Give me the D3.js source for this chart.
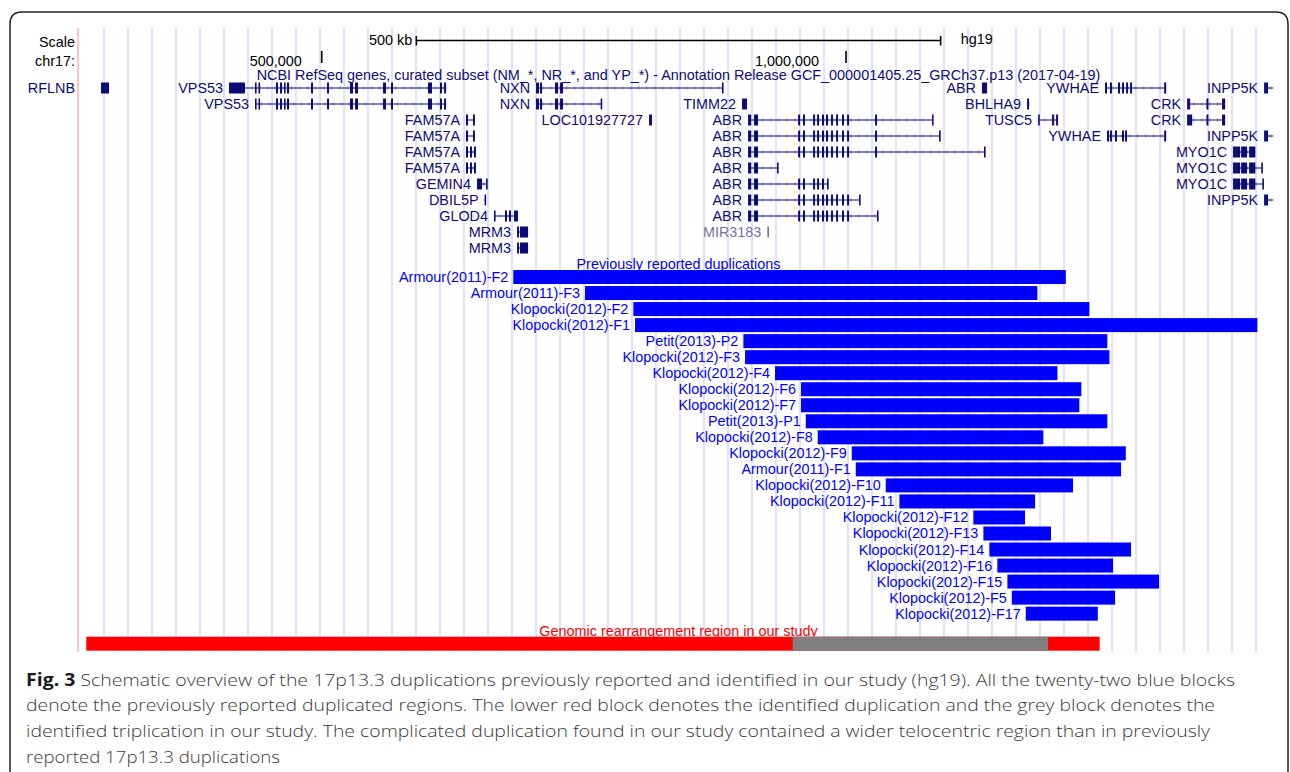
<!DOCTYPE html>
<meta charset="utf-8">
<style>
body { margin: 0; background: #fff; }
svg text { font-family: "Liberation Sans", Arial, Helvetica, sans-serif; }
svg text.caption { font-family: "Open Sans", "Noto Sans", sans-serif; }
</style>
<body>
<script src="https://cdnjs.cloudflare.com/ajax/libs/d3/7.8.5/d3.min.js"></script>
<script>

var w = 1290, h = 772;
var navy = "#0c0c78";
var fs = 14.4;

// browser window on chr17 (hg19)
var chromStart = 267600, chromEnd = 1412900;
var rulerTicks = [500000, 1000000];
var rulerLabels = ["500,000", "1,000,000"];
var scaleBarBp = 500000;

// RefSeq transcripts: name, row, start, end, exons
var transcripts = [
	["RFLNB", 0, 289500, 297200, [[289500, 297200]]],
	["VPS53", 0, 411600, 618600, [[411600,426900],[436400,437800],[439700,441200],[456400,458300],[460200,462200],[464100,465500],[466900,468900],[489800,491700],[505100,507000],[527000,529900],[531800,534600],[558500,561300],[566100,568000],[601400,605200],[612800,614700],[616700,618600]]],
	["VPS53", 1, 436400, 618600, [[436400,437800],[439700,441200],[456400,458300],[460200,462200],[464100,465500],[466900,468900],[489800,491700],[505100,507000],[527000,529900],[531800,534600],[558500,561300],[566100,568000],[601400,605200],[612800,614700],[616700,618600]]],
	["NXN", 0, 704400, 882700, [[704400,707200],[708200,710100],[722500,725400],[727300,730100],[881700,882700]]],
	["NXN", 1, 704400, 767000, [[704400,707200],[708200,710100],[722500,725400],[727300,730100],[766000,767000]]],
	["TIMM22", 1, 900900, 905600, [[900900, 905600]]],
	["FAM57A", 2, 637600, 646100, [[637600,639500],[644300,646100]]],
	["FAM57A", 3, 637600, 646100, [[637600,639500],[644300,646100]]],
	["FAM57A", 4, 637600, 647100, [[637600,639500],[641400,643300],[645200,647100]]],
	["FAM57A", 5, 637600, 647100, [[637600,639500],[641400,643300],[645200,647100]]],
	["LOC101927727", 2, 812200, 815000, [[812200, 815000]]],
	["GEMIN4", 6, 648100, 657700, [[648100,652900],[656700,657700]]],
	["DBIL5P", 7, 655300, 656700, [[655300, 656700]]],
	["GLOD4", 8, 664300, 687200, [[664300,665300],[674800,676700],[678600,680500],[683400,687200]]],
	["MRM3", 9, 686300, 696800, [[686300,688200],[689100,696800]]],
	["MRM3", 10, 686300, 696800, [[686300,688200],[689100,696800]]],
	["ABR", 0, 1129700, 1134500, [[1129700, 1134500]]],
	["ABR", 2, 906600, 1083000, "abr"],
	["ABR", 3, 906600, 1089700, "abr"],
	["ABR", 4, 906600, 1132600, "abr"],
	["ABR", 5, 906600, 935200, [[906600,909500],[912300,916100],[934200,935200]]],
	["ABR", 6, 906600, 982900, "abr"],
	["ABR", 7, 906600, 1013400, "abr"],
	["ABR", 8, 906600, 1030500, "abr"],
	["MIR3183", 9, 925000, 926200, [[925000, 926200]]],
	["BHLHA9", 1, 1172700, 1174600, [[1172700, 1174600]]],
	["TUSC5", 2, 1183200, 1202200, [[1183200,1184200],[1196500,1198500],[1200300,1202200]]],
	["YWHAE", 0, 1247000, 1305300, [[1247000,1248900],[1251700,1253600],[1259400,1261300],[1263200,1265100],[1267100,1269000],[1270900,1272800],[1303400,1305300]]],
	["YWHAE", 3, 1248900, 1305300, [[1248900,1250800],[1251700,1253600],[1256500,1258400],[1263200,1265100],[1266100,1268000],[1303400,1305300]]],
	["INPP5K", 0, 1398700, 1407300, [[1398700, 1402500]]],
	["INPP5K", 3, 1398700, 1407300, [[1398700, 1402500]]],
	["INPP5K", 7, 1398700, 1407300, [[1398700, 1402500]]],
	["CRK", 1, 1325300, 1361500, [[1325300,1328200],[1343700,1345600],[1358600,1361500]]],
	["CRK", 2, 1325300, 1361500, [[1325300,1330100],[1343700,1345600],[1358600,1361500]]],
	["MYO1C", 4, 1369100, 1390300, [[1369100,1375800],[1376800,1382500],[1384400,1390300]]],
	["MYO1C", 5, 1369100, 1397000, [[1369100,1375800],[1376800,1382500],[1384400,1390300],[1396000,1397000]]],
	["MYO1C", 6, 1369100, 1398000, [[1369100,1375800],[1376800,1382500],[1384400,1390300],[1397000,1398000]]]
];
// shared ABR exon model
var abrExons = [[906600,909500],[912300,916100],[954300,956200],[959000,960900],[968600,970500],[972400,974300],[977100,979000],[980900,982900],[985700,987600],[990500,992400],[996200,998100],[1001000,1002900],[1027700,1029600]];
var noncoding = ["MIR3183"];

// previously reported duplications
var dupNames = ["Armour(2011)-F2","Armour(2011)-F3","Klopocki(2012)-F2","Klopocki(2012)-F1","Petit(2013)-P2","Klopocki(2012)-F3","Klopocki(2012)-F4","Klopocki(2012)-F6","Klopocki(2012)-F7","Petit(2013)-P1","Klopocki(2012)-F8","Klopocki(2012)-F9","Armour(2011)-F1","Klopocki(2012)-F10","Klopocki(2012)-F11","Klopocki(2012)-F12","Klopocki(2012)-F13","Klopocki(2012)-F14","Klopocki(2012)-F16","Klopocki(2012)-F15","Klopocki(2012)-F5","Klopocki(2012)-F17"];
var dupStart = [682700,751100,797200,798800,902100,903700,932300,957100,957100,961600,973000,1005500,1009300,1037900,1050900,1121400,1131000,1136700,1144300,1153900,1158100,1171400];
var dupEnd = [1209600,1182500,1232100,1392300,1249200,1251200,1201600,1224400,1222500,1249200,1188200,1266800,1262300,1216500,1180300,1170700,1195500,1271800,1254700,1298500,1256600,1240100];

// our study
var studyDuplication = [275500, 1241900];
var studyTriplication = [949200, 1192700];

var captionLines = [
	"Schematic overview of the 17p13.3 duplications previously reported and identified in our study (hg19). All the twenty-two blue blocks",
	"denote the previously reported duplicated regions. The lower red block denotes the identified duplication and the grey block denotes the",
	"identified triplication in our study. The complicated duplication found in our study contained a wider telocentric region than in previously",
	"reported 17p13.3 duplications"
];

var svg = d3.select("body").append("svg")
	.attr("width", w)
	.attr("height", h);

var x = d3.scaleLinear().domain([chromStart, chromEnd]).range([78, 1279]);
var rowY = function(r) { return 88 + r * 16; };
var yDup = d3.scaleBand().domain(dupNames).range([269, 269 + 22 * 16.03]).paddingInner(0.125).paddingOuter(0.0625);
var xMid = (x.range()[0] + x.range()[1]) / 2;

// frame
svg.append("path")
	.attr("d", "M10,780 L10,24 Q10,12 22,12 L1276,12 Q1288,12 1288,24 L1288,780")
	.attr("fill", "none")
	.attr("stroke", "#222")
	.attr("stroke-width", 1.5);

// guidelines
svg.selectAll("line.guide")
	.data(d3.range(104, 1279, 24))
	.enter().append("line")
	.attr("x1", function(d) { return d; })
	.attr("x2", function(d) { return d; })
	.attr("y1", 28).attr("y2", 652)
	.attr("stroke", "#d6d6ff")
	.attr("stroke-width", 1.5);

svg.append("line")
	.attr("x1", 78).attr("x2", 78)
	.attr("y1", 28).attr("y2", 652)
	.attr("stroke", "#ffb0b0")
	.attr("stroke-width", 1.5);

// ruler
svg.append("text").attr("x", 75).attr("y", 47).attr("text-anchor", "end")
	.attr("font-size", fs).text("Scale");
svg.append("text").attr("x", 75).attr("y", 66).attr("text-anchor", "end")
	.attr("font-size", fs).text("chr17:");

var mid = (chromStart + chromEnd) / 2;
var sb0 = x(mid - scaleBarBp / 2), sb1 = x(mid + scaleBarBp / 2);
svg.append("line").attr("x1", sb0).attr("x2", sb1).attr("y1", 40.5).attr("y2", 40.5)
	.attr("stroke", "#000").attr("stroke-width", 1.3);
[sb0, sb1].forEach(function(p) {
	svg.append("line").attr("x1", p).attr("x2", p).attr("y1", 36).attr("y2", 45.5)
		.attr("stroke", "#000").attr("stroke-width", 1.6);
});
svg.append("text").attr("x", sb0 - 4).attr("y", 45).attr("text-anchor", "end")
	.attr("font-size", fs).text("500 kb");
svg.append("text").attr("x", sb1 + 20).attr("y", 44).attr("font-size", fs).text("hg19");

var labelGap = [20, 27];
rulerTicks.forEach(function(t, i) {
	svg.append("line").attr("x1", x(t)).attr("x2", x(t)).attr("y1", 51).attr("y2", 63)
		.attr("stroke", "#000").attr("stroke-width", 1.6);
	svg.append("text").attr("x", x(t) - labelGap[i]).attr("y", 66).attr("text-anchor", "end")
		.attr("font-size", fs).text(rulerLabels[i]);
});

// gene track title
svg.append("text").attr("x", xMid).attr("y", 80)
	.attr("text-anchor", "middle").attr("font-size", fs).attr("fill", navy)
	.text("NCBI RefSeq genes, curated subset (NM_*, NR_*, and YP_*) - Annotation Release GCF_000001405.25_GRCh37.p13 (2017-04-19)");

// transcripts
var gTx = svg.append("g");
transcripts.forEach(function(t) {
	var name = t[0], cy = rowY(t[1]), s = t[2], e = t[3];
	var exons = t[4] === "abr"
		? abrExons.filter(function(ex) { return ex[1] < e - 2000; }).concat([[e - 1000, e]])
		: t[4];
	var col = noncoding.indexOf(name) >= 0 ? "#7474a8" : navy;
	var x0 = x(s), x1 = Math.min(x(e), 1276);
	var g = gTx.append("g");
	g.append("line").attr("x1", x0).attr("x2", x1).attr("y1", cy).attr("y2", cy)
		.attr("stroke", col).attr("stroke-width", 1);
	// strand arrows
	for (var p = x0 + 6; p < x1 - 3; p += 8) {
		g.append("path").attr("d", "M" + (p + 1.5) + "," + (cy - 2) + " L" + (p - 0.5) + "," + cy + " L" + (p + 1.5) + "," + (cy + 2))
			.attr("fill", "none").attr("stroke", col).attr("stroke-opacity", 0.45).attr("stroke-width", 0.8);
	}
	g.selectAll("rect").data(exons).enter().append("rect")
		.attr("x", function(d) { return x(d[0]); })
		.attr("width", function(d) { return Math.max(1.6, x(d[1]) - x(d[0])); })
		.attr("y", cy - 5.5).attr("height", 11)
		.attr("fill", col);
	var lab = g.append("text").attr("x", x0 - 6).attr("y", cy + 5).attr("text-anchor", "end")
		.attr("font-size", fs).attr("fill", col).text(name);
	if (x0 - 6 - lab.node().getComputedTextLength() < 78) lab.attr("x", 75);
});

// previously reported duplications
svg.append("text").attr("x", xMid).attr("y", 268.5)
	.attr("text-anchor", "middle").attr("font-size", fs).attr("fill", "#0000ff")
	.text("Previously reported duplications");

var dups = dupNames.map(function(n, i) { return {name: n, s: dupStart[i], e: dupEnd[i]}; });
svg.selectAll("rect.dup").data(dups).enter().append("rect")
	.attr("class", "dup")
	.attr("x", function(d) { return x(d.s); })
	.attr("width", function(d) { return x(d.e) - x(d.s); })
	.attr("y", function(d) { return yDup(d.name); })
	.attr("height", yDup.bandwidth())
	.attr("fill", "#0000ff");
svg.selectAll("text.dup").data(dups).enter().append("text")
	.attr("class", "dup")
	.attr("x", function(d) { return x(d.s) - 5; })
	.attr("y", function(d) { return yDup(d.name) + yDup.bandwidth() / 2 + 5; })
	.attr("text-anchor", "end").attr("font-size", fs).attr("fill", "#0000ff")
	.text(function(d) { return d.name; });

// genomic rearrangement in our study
svg.append("text").attr("x", xMid).attr("y", 635.5)
	.attr("text-anchor", "middle").attr("font-size", fs).attr("fill", "#ff0000")
	.text("Genomic rearrangement region in our study");
svg.append("rect").attr("x", x(studyDuplication[0])).attr("y", 636.7)
	.attr("width", x(studyDuplication[1]) - x(studyDuplication[0])).attr("height", 14)
	.attr("fill", "#ff0000");
svg.append("rect").attr("x", x(studyTriplication[0])).attr("y", 636.7)
	.attr("width", x(studyTriplication[1]) - x(studyTriplication[0])).attr("height", 14)
	.attr("fill", "#808080");

// caption
var capEnds = [1235, 1215, 1210, 280];
captionLines.forEach(function(line, i) {
	var t = svg.append("text").attr("class", "caption")
		.attr("x", 26).attr("y", 685.5 + i * 25.7)
		.attr("font-size", 17).attr("font-weight", 300).attr("fill", "#3a3a3a");
	if (i === 0) {
		t.append("tspan").attr("font-weight", "bold").attr("fill", "#1a1a1a").text("Fig. 3");
		t.append("tspan").text(" " + line);
	} else {
		t.text(line);
	}
	t.attr("textLength", capEnds[i] - 26).attr("lengthAdjust", "spacingAndGlyphs");
});

</script>
</body>
